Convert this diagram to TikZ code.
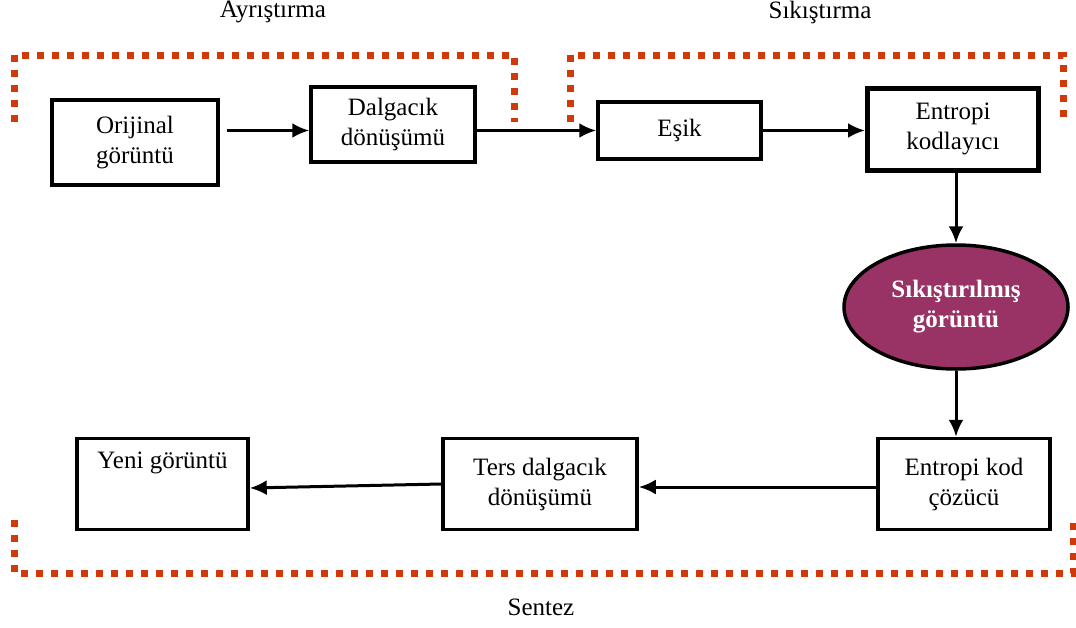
\documentclass[tikz,border=0pt]{standalone}
\usepackage{fontspec}
\setmainfont{Liberation Serif}
\usetikzlibrary{arrows.meta,shapes.geometric}
\definecolor{frameorange}{HTML}{D03A0A}
\definecolor{plum}{HTML}{993366}
\begin{document}
\begin{tikzpicture}
      [x=1pt,y=-1pt,
       every node/.style={font=\fontsize{25}{30}\selectfont, align=center},
       box/.style={draw, line width=3.5pt, inner sep=0pt},
       arr/.style={line width=3pt, -{Latex[length=17pt,width=15pt]}},
       dotframe/.style={draw=frameorange, line width=7pt, dash pattern=on 7pt off 8pt}]
    \useasboundingbox (0,0) rectangle (1076,627);

    % upper row
    \node[box, minimum width=166pt, minimum height=85pt] (orig) at (135,142.5) {Orijinal\\görüntü};
    \node[box, minimum width=164pt, minimum height=75pt] (dalga) at (393,124.5) {Dalgacık\\dönüşümü};
    \node[box, minimum width=163pt, minimum height=57pt] (esik) at (679.5,130.5) {Eşik};
    \node[box, line width=5pt, minimum width=171pt, minimum height=82pt] (entk) at (953,129) {Entropi\\kodlayıcı};

    % compressed image
    \node[ellipse, draw, line width=3.5pt, fill=plum, text=white, font=\fontsize{25}{30}\selectfont\bfseries,
          minimum width=224pt, minimum height=124pt, inner sep=0pt] (sik) at (956,307) {Sıkıştırılmış\\görüntü};

    % lower row
    \node[box, minimum width=172pt, minimum height=91pt] (cozucu) at (964,484) {Entropi kod\\çözücü};
    \node[box, minimum width=194pt, minimum height=91pt] (ters) at (540,484) {Ters dalgacık\\dönüşümü};
    \node[box, minimum width=171pt, minimum height=91pt] (yeni) at (162.5,484) {};
    \node[below=12pt] (yenitxt) at (yeni.north) {Yeni görüntü};

    % frame labels
    \node (ayr) at (273,12) {Ayrıştırma};
    \node (sikl) at (820,12) {Sıkıştırma};
    \node (sent) at (541,607) {Sentez};

    % connectors
    \draw[arr, shorten <=7pt] (orig.east |- esik) -- (dalga.west |- esik);
    \draw[arr] (dalga.east |- esik) -- (esik.west);
    \draw[arr] (esik.east) -- (entk.west |- esik);
    \draw[arr] (entk.south -| sik) -- (sik.north);
    \draw[arr] (sik.south) -- (sik.south |- cozucu.north);
    \draw[arr] ([yshift=-3pt]cozucu.west) -- ([yshift=-3pt]ters.east);
    \draw[arr] (ters.west) -- ([yshift=-4pt]yeni.east);

    % dotted frames
    \draw[dotframe] (14,122) -- (14,55) -- (514,55) -- (514,122);
    \draw[dotframe] (570,122) -- (570,55) -- (1063,55) -- (1063,122);
    \draw[dotframe] (14,520) -- (14,573) -- (1073,573) -- (1073,520);
\end{tikzpicture}
\end{document}
